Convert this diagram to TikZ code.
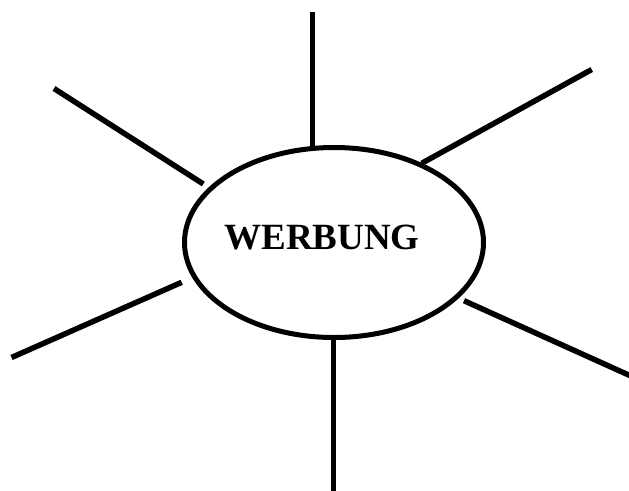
\documentclass[tikz,border=0pt]{standalone}
\usepackage{fontspec}
\setmainfont{Liberation Serif}
\usetikzlibrary{shapes.geometric}
\tikzset{
  spoke/.style={line width=5.5pt, line cap=butt},
  hub/.style={ellipse, draw, line width=5pt, inner sep=0pt, minimum width=299pt, minimum height=190pt},
  title/.style={font=\fontsize{37}{44}\selectfont\bfseries, inner sep=0pt, anchor=base}
}
\begin{document}
\begin{tikzpicture}[x=1pt,y=-1pt]
\useasboundingbox (0,0) rectangle (629,490);
\node[hub] (e) at (334,242.5) {};
\node[title] (t) at (322,249.3) {WERBUNG};
% outer ends
\coordinate (o1) at (312.5,12);
\coordinate (o2) at (591.7,69.5);
\coordinate (o3) at (54,88.5);
\coordinate (o4) at (11.5,357.5);
\coordinate (o5) at (632,376.5);
\coordinate (o6) at (333.3,492);
% inner ends
\coordinate (i1) at (312.5,147);
\coordinate (i2) at (421.7,163.3);
\coordinate (i3) at (203.3,184);
\coordinate (i4) at (181.7,282.3);
\coordinate (i5) at (464,300.7);
\coordinate (i6) at (333.3,338);
\draw[spoke] (o1) -- (i1);
\draw[spoke] (o2) -- (i2);
\draw[spoke] (o3) -- (i3);
\draw[spoke] (o4) -- (i4);
\draw[spoke] (o5) -- (i5);
\draw[spoke] (o6) -- (i6);
\end{tikzpicture}
\end{document}
